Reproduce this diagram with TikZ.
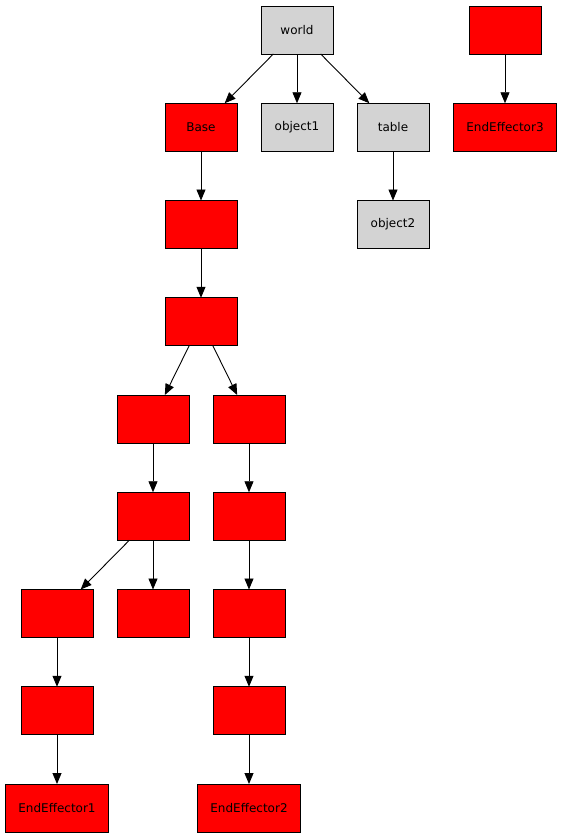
\documentclass[tikz,border=0pt]{standalone}
\usepackage{fontspec}
\setmainfont{DejaVu Sans}
\usetikzlibrary{arrows.meta,positioning}

\begin{document}
\begin{tikzpicture}[x=1pt,y=-1pt,node distance=49.25pt and 24pt]
\definecolor{link fill}{HTML}{FF0000}
\definecolor{object fill}{HTML}{D3D3D3}
\tikzset{
     frame/.style={rectangle, draw=black, line width=0.9pt, minimum width=72pt, minimum height=48pt,
                   inner xsep=13pt, inner ysep=0pt, outer sep=0pt, font=\fontsize{12}{14}\selectfont},
     link/.style={frame, fill=link fill},
     object/.style={frame, fill=object fill},
     edge/.style={-{Triangle[length=11pt,width=9pt]}, line width=0.9pt}}

\useasboundingbox (0,0) rectangle (563,839);

% The scene
\node (world)   [object] at (297,30) {world};
\node (object1) [object, below=of world] {object1};
\node (base)    [link, left=24pt of object1] {Base};
\node (table)   [object, right=24pt of object1] {table};
\node (object2) [object, below=of table] {object2};

% The arm
\node (link1) [link, below=of base] {};
\node (link2) [link, below=of link1] {};

% Left branch
\node (left1) [link, below left=49.25pt and -24pt of link2] {};
\node (left2) [link, below=of left1] {};
\node (left3) [link, below left=of left2] {};
\node (stub)  [link, below=of left2] {};
\node (left4) [link, below=of left3] {};
\node (ee1)   [link, below=of left4] {EndEffector1};

% Right branch
\node (right1) [link, below right=49.25pt and -24pt of link2] {};
\node (right2) [link, below=of right1] {};
\node (right3) [link, below=of right2] {};
\node (right4) [link, below=of right3] {};
\node (ee2)    [link, below=of right4] {EndEffector2};

% The loose one
\node (top3) [link] at (505,30) {};
\node (ee3)  [link, below=of top3] {EndEffector3};

% The edges
\draw [edge] (world) -- (base);
\draw [edge] (world) -- (object1);
\draw [edge] (world) -- (table);
\draw [edge] (table) -- (object2);
\draw [edge] (base) -- (link1);
\draw [edge] (link1) -- (link2);
\draw [edge] (link2) -- (left1);
\draw [edge] (link2) -- (right1);
\draw [edge] (left1) -- (left2);
\draw [edge] (left2) -- (left3);
\draw [edge] (left2) -- (stub);
\draw [edge] (left3) -- (left4);
\draw [edge] (left4) -- (ee1);
\draw [edge] (right1) -- (right2);
\draw [edge] (right2) -- (right3);
\draw [edge] (right3) -- (right4);
\draw [edge] (right4) -- (ee2);
\draw [edge] (top3) -- (ee3);
\end{tikzpicture}
\end{document}
